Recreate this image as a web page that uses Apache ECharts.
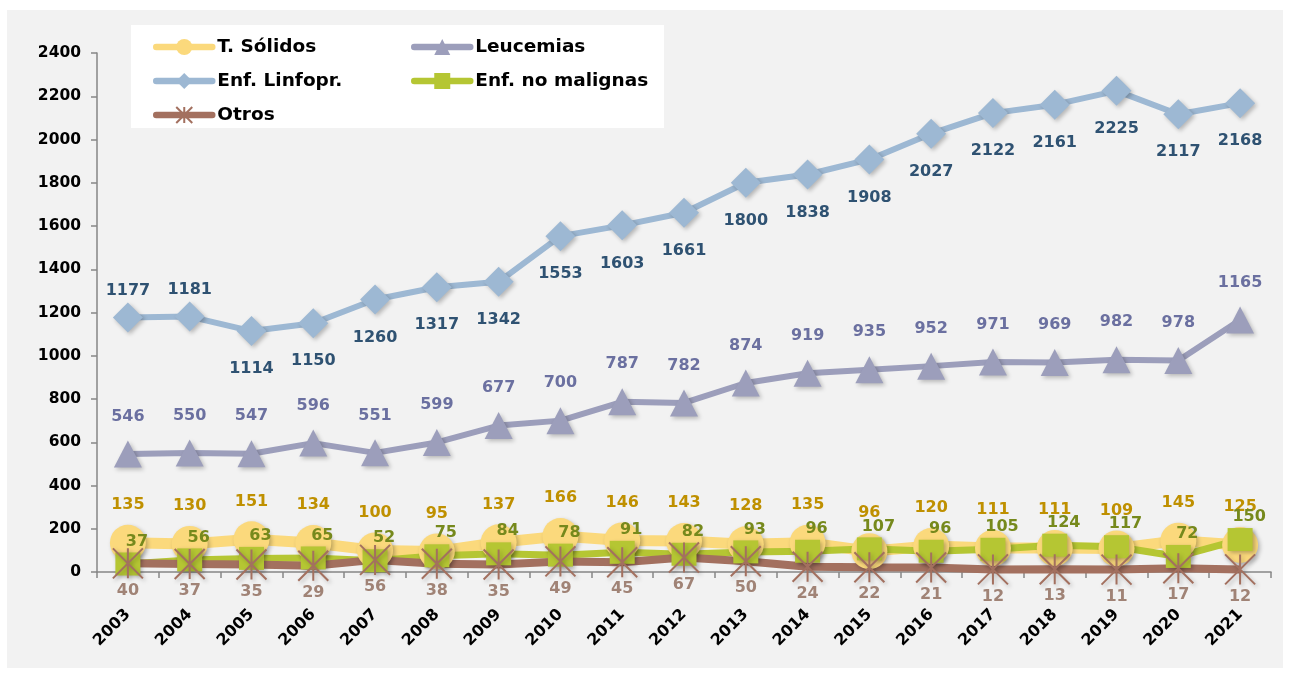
<!DOCTYPE html>
<html>
<head>
<meta charset="utf-8">
<script src="https://cdn.jsdelivr.net/npm/echarts@6/dist/echarts.min.js"></script>
<style>
html,body{margin:0;padding:0;background:#fff;}
#chart{width:1290px;height:673px;}
</style>
</head>
<body>
<div id="chart"></div>
<script>
const years = ['2003','2004','2005','2006','2007','2008','2009','2010','2011','2012','2013','2014','2015','2016','2017','2018','2019','2020','2021'];
const yTicks = [0,200,400,600,800,1000,1200,1400,1600,1800,2000,2200,2400];
const tSolidos = [135,130,151,134,100,95,137,166,146,143,128,135,96,120,111,111,109,145,125];
const leucemias = [546,550,547,596,551,599,677,700,787,782,874,919,935,952,971,969,982,978,1165];
const linfopr = [1177,1181,1114,1150,1260,1317,1342,1553,1603,1661,1800,1838,1908,2027,2122,2161,2225,2117,2168];
const noMalignas = [37,56,63,65,52,75,84,78,91,82,93,96,107,96,105,124,117,72,150];
const otros = [40,37,35,29,56,38,35,49,45,67,50,24,22,21,12,13,11,17,12];

const FONT = 'DejaVu Sans';
const shadow = {shadowBlur:4, shadowColor:'rgba(0,0,0,0.25)', shadowOffsetX:2, shadowOffsetY:2};
const lbl = (color, pos, dist, extra) => Object.assign({show:true, position:pos, distance:dist, color:color, fontFamily:FONT, fontWeight:'bold', fontSize:16}, extra||{});

// label placement tweaks (style only)
const linfoprAbove = [0,1];
const linfoprData = linfopr.map((v,i)=> linfoprAbove.includes(i) ? {value:v, label:{position:'top', distance:4}} : v);

const legendText = {fontFamily:FONT, fontWeight:'bold', fontSize:18.5, color:'#000', lineHeight:20};
const legendBase = {orient:'vertical', top:32, itemWidth:56, itemHeight:20, itemGap:14, itemTextGap:3,
  lineStyle:{width:6.5, cap:'round'}, textStyle:legendText};

const chart = echarts.init(document.getElementById('chart'));
chart.setOption({
  backgroundColor:'#ffffff',
  animation:false,
  graphic:[
    {type:'rect', z:-10, silent:true, shape:{x:7,y:10,width:1276,height:658}, style:{fill:'#f2f2f2'}},
    {type:'rect', z:-9, silent:true, shape:{x:131,y:25,width:533,height:103}, style:{fill:'#ffffff'}}
  ],
  grid:{left:97, right:19, top:53, bottom:101},
  legend:[
    Object.assign({data:['T. Sólidos','Enf. Linfopr.','Otros'], left:148}, legendBase),
    Object.assign({data:['Leucemias','Enf. no malignas'], left:406}, legendBase)
  ],
  xAxis:{type:'category', data:years, boundaryGap:true,
    axisLine:{lineStyle:{color:'#868686', width:1.5}},
    axisTick:{show:true, length:6, alignWithLabel:false, lineStyle:{color:'#868686', width:1.5}},
    axisLabel:{rotate:45, margin:40, color:'#000', fontFamily:FONT, fontWeight:'bold', fontSize:16, interval:0},
    splitLine:{show:false}},
  yAxis:{type:'value', min:yTicks[0], max:yTicks[yTicks.length-1], interval:yTicks[1]-yTicks[0],
    axisLine:{show:true, lineStyle:{color:'#868686', width:1.5}},
    axisTick:{show:true, length:6, lineStyle:{color:'#868686', width:1.5}},
    axisLabel:{margin:16, color:'#000', fontFamily:FONT, fontWeight:'bold', fontSize:15.5, formatter:(v)=>String(v)},
    splitLine:{show:false}},
  series:[
    {name:'Enf. Linfopr.', type:'line', data:linfoprData, symbol:'diamond', symbolSize:30,
     lineStyle:{color:'#9db8d3', width:6}, itemStyle:Object.assign({color:'#9db8d3'}, shadow),
     label:lbl('#2f5272','bottom',15)},
    {name:'Leucemias', type:'line', data:leucemias, symbol:'triangle', symbolSize:[28,27],
     lineStyle:{color:'#9c9ebb', width:6}, itemStyle:Object.assign({color:'#9c9ebb'}, shadow),
     label:lbl('#6b70a0','top',16)},
    {name:'T. Sólidos', type:'line', data:tSolidos, symbol:'circle', symbolSize:36,
     lineStyle:{color:'#fbd97c', width:11}, itemStyle:Object.assign({color:'#fbd97c'}, shadow),
     label:lbl('#bf9000','top',12)},
    {name:'Enf. no malignas', type:'line', data:noMalignas, symbol:'rect', symbolSize:[25,23],
     lineStyle:{color:'#b5c633', width:7}, itemStyle:Object.assign({color:'#b5c633'}, shadow),
     label:lbl('#76891c','top',3,{offset:[9,0]})},
    {name:'Otros', type:'line', data:otros, symbol:'path://M0,0L10,10M10,0L0,10M5,0L5,10', symbolSize:30,
     lineStyle:{color:'#a3705f', width:8}, itemStyle:Object.assign({color:'#a3705f', borderColor:'#a3705f', borderWidth:2}, shadow),
     label:lbl('#a08376','bottom',3)}
  ]
});
</script>
</body>
</html>
